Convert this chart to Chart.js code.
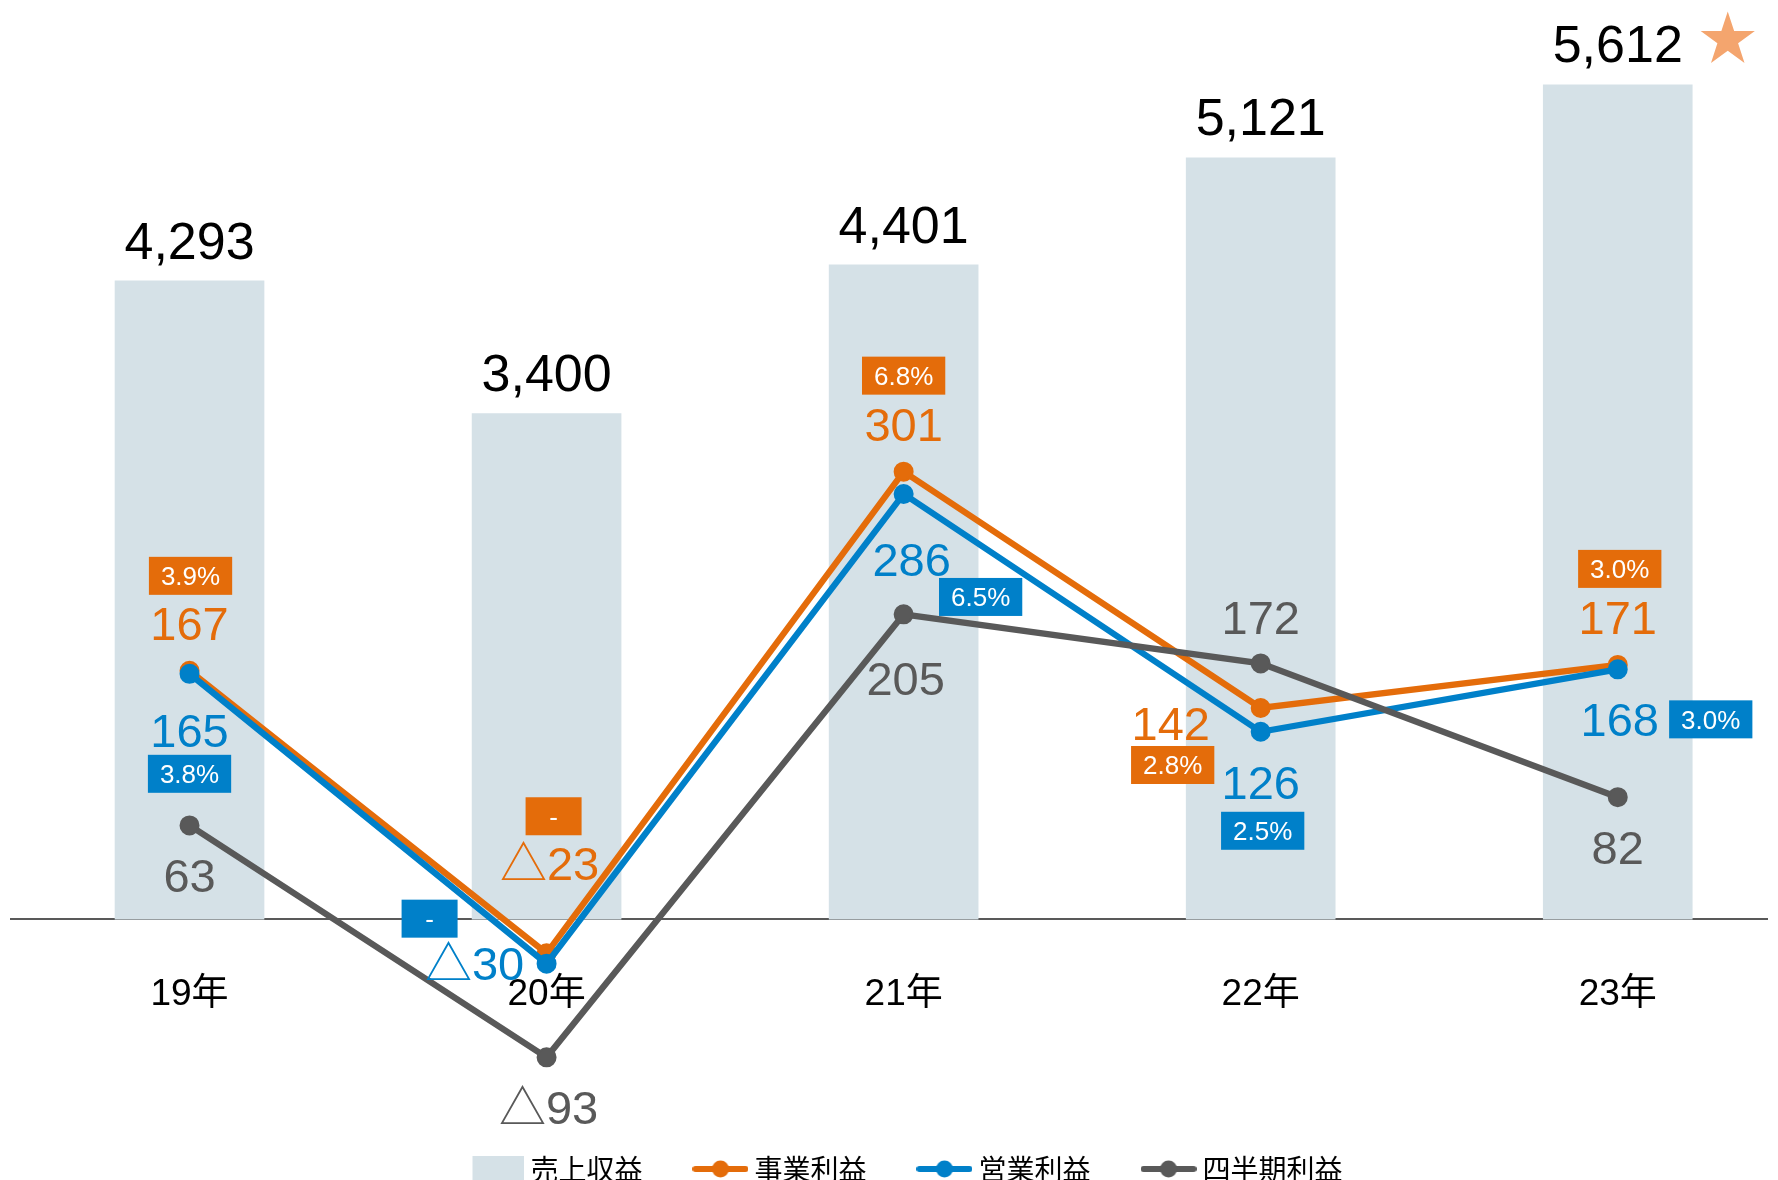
<!DOCTYPE html>
<html lang="ja">
<head>
<meta charset="utf-8">
<script src="https://cdn.jsdelivr.net/npm/chart.js@4.4.1/dist/chart.umd.min.js"></script>
<style>
  html, body { margin: 0; padding: 0; background: #fff; overflow: hidden; }
</style>
</head>
<body>
<canvas id="chart" width="1778" height="1180"></canvas>
<script>
// 年度
const years = ['19年', '20年', '21年', '22年', '23年'];
// 売上収益
const sales = [4293, 3400, 4401, 5121, 5612];
// 事業利益と利益率
const bizProfit = [167, -23, 301, 142, 171];
const bizMargin = ['3.9%', '-', '6.8%', '2.8%', '3.0%'];
// 営業利益と利益率
const opProfit = [165, -30, 286, 126, 168];
const opMargin = ['3.8%', '-', '6.5%', '2.5%', '3.0%'];
// 四半期利益
const qProfit = [63, -93, 205, 172, 82];

const FONT = '"Liberation Sans", "Noto Sans CJK JP", sans-serif';
const JP_FONT = '"Noto Sans CJK JP", sans-serif';

const COLORS = {
  bar: '#D5E1E7',
  biz: '#E46C0A',
  op: '#0080C9',
  q: '#595959',
  star: '#F4A56E'
};

// ラベルの位置 (点からのずれ px)
const bizLabelPos = [[0, -48], [3, -90], [0, -47], [-90, 15], [0, -48]];
const bizBoxPos = [[1, -95], [7, -137], [0, -96], [-88, 57], [2, -96]];
const opLabelPos = [[0, 56], [-72, 0], [8, 65], [0, 50], [2, 50]];
const opBoxPos = [[0, 100], [-117, -45], [77, 103], [2, 99], [93, 50]];
const qLabelPos = [[0, 50], [2, 50], [2, 64], [0, -46], [0, 50]];

// 軸の範囲 (棒と線で 10:1)
const Y_MIN = -1197;
const Y_MAX = 6109;
const X_MIN = -0.5;
const X_MAX = 4.418;

function fmt(v) {
  return v < 0 ? '△' + Math.abs(v) : String(v);
}

function toPoints(values) {
  return values.map((v, i) => ({ x: i, y: v }));
}

function drawText(ctx, text, x, y, size, color) {
  ctx.font = size + 'px ' + FONT;
  ctx.fillStyle = color;
  ctx.textAlign = 'center';
  ctx.textBaseline = 'alphabetic';
  ctx.fillText(text, x, y + size * 0.358);
}

function drawBox(ctx, text, x, y, color) {
  ctx.font = '26px ' + FONT;
  const w = Math.max(ctx.measureText(text).width + 24, 56);
  ctx.fillStyle = color;
  ctx.fillRect(x - w / 2, y - 19, w, 38);
  drawText(ctx, text, x, y, 26, '#fff');
}

function drawStar(ctx, cx, cy, r, color) {
  ctx.beginPath();
  for (let k = 0; k < 10; k++) {
    const rad = k % 2 === 0 ? r : r * 0.382;
    const a = -Math.PI / 2 + k * Math.PI / 5;
    const px = cx + rad * Math.cos(a);
    const py = cy + rad * Math.sin(a);
    if (k === 0) ctx.moveTo(px, py); else ctx.lineTo(px, py);
  }
  ctx.closePath();
  ctx.fillStyle = color;
  ctx.fill();
}

// 凡例のアイコン
function legendIcon(color, kind) {
  const c = document.createElement('canvas');
  c.width = 56;
  c.height = 28;
  const g = c.getContext('2d');
  if (kind === 'bar') {
    g.fillStyle = color;
    g.fillRect(4, 1, 52, 27);
  } else {
    g.strokeStyle = color;
    g.lineWidth = 6;
    g.lineCap = 'round';
    g.beginPath();
    g.moveTo(3, 14);
    g.lineTo(53, 14);
    g.stroke();
    g.fillStyle = color;
    g.beginPath();
    g.arc(28, 14, 8.5, 0, Math.PI * 2);
    g.fill();
  }
  return c;
}

const legendItems = [
  { text: '売上収益', pointStyle: legendIcon(COLORS.bar, 'bar'), datasetIndex: 0 },
  { text: '事業利益', pointStyle: legendIcon(COLORS.biz, 'line'), datasetIndex: 1 },
  { text: '営業利益', pointStyle: legendIcon(COLORS.op, 'line'), datasetIndex: 2 },
  { text: '四半期利益', pointStyle: legendIcon(COLORS.q, 'line'), datasetIndex: 3 }
].map(it => Object.assign(it, { fillStyle: 'rgba(0,0,0,0)', strokeStyle: 'rgba(0,0,0,0)', lineWidth: 0, hidden: false }));

// 値ラベルを描くプラグイン
const valueLabels = {
  id: 'valueLabels',
  afterDatasetsDraw(chart) {
    const ctx = chart.ctx;
    ctx.save();
    const bars = chart.getDatasetMeta(0).data;
    bars.forEach((bar, i) => {
      drawText(ctx, sales[i].toLocaleString('en-US'), bar.x, bar.y - 41, 52, '#000');
      if (i === bars.length - 1) {
        drawStar(ctx, bar.x + 110, bar.y - 45, 28.5, COLORS.star);
      }
    });
    const series = [
      { idx: 1, values: bizProfit, margins: bizMargin, pos: bizLabelPos, box: bizBoxPos, color: COLORS.biz },
      { idx: 2, values: opProfit, margins: opMargin, pos: opLabelPos, box: opBoxPos, color: COLORS.op },
      { idx: 3, values: qProfit, margins: null, pos: qLabelPos, box: null, color: COLORS.q }
    ];
    series.forEach(s => {
      chart.getDatasetMeta(s.idx).data.forEach((pt, i) => {
        drawText(ctx, fmt(s.values[i]), pt.x + s.pos[i][0], pt.y + s.pos[i][1], 47, s.color);
        if (s.margins) {
          drawBox(ctx, s.margins[i], pt.x + s.box[i][0], pt.y + s.box[i][1], s.color);
        }
      });
    });
    ctx.restore();
  }
};

function lineDataset(label, values, color, order) {
  return {
    type: 'line',
    label: label,
    data: toPoints(values),
    yAxisID: 'y1',
    borderColor: color,
    backgroundColor: color,
    borderWidth: 6.3,
    pointRadius: 9,
    pointBorderWidth: 2,
    pointBackgroundColor: color,
    pointBorderColor: color,
    tension: 0,
    clip: false,
    order: order
  };
}

const ctx = document.getElementById('chart').getContext('2d');
new Chart(ctx, {
  data: {
    datasets: [
      {
        type: 'bar',
        label: '売上収益',
        data: toPoints(sales),
        yAxisID: 'y',
        backgroundColor: COLORS.bar,
        barThickness: 149,
        order: 4
      },
      lineDataset('事業利益', bizProfit, COLORS.biz, 3),
      lineDataset('営業利益', opProfit, COLORS.op, 2),
      lineDataset('四半期利益', qProfit, COLORS.q, 1)
    ]
  },
  options: {
    responsive: false,
    animation: false,
    devicePixelRatio: 1,
    layout: { padding: { left: 11, right: -30, top: 0, bottom: -13 } },
    scales: {
      x: {
        type: 'linear',
        offset: false,
        position: { y: 0 },
        min: X_MIN,
        max: X_MAX,
        afterBuildTicks: scale => { scale.ticks = years.map((_, i) => ({ value: i })); },
        grid: { display: false, drawTicks: false },
        border: { display: true, color: '#595959', width: 2 },
        ticks: {
          autoSkip: false,
          maxRotation: 0,
          padding: 54,
          color: '#000',
          font: { size: 37, family: FONT },
          callback: v => years[v]
        }
      },
      y: { display: false, min: Y_MIN, max: Y_MAX },
      y1: { display: false, min: Y_MIN / 10, max: Y_MAX / 10 }
    },
    plugins: {
      tooltip: { enabled: false },
      legend: {
        position: 'bottom',
        labels: {
          usePointStyle: true,
          pointStyleWidth: 40,
          padding: 58,
          color: '#000',
          font: { size: 28, family: JP_FONT },
          generateLabels: () => legendItems
        }
      }
    }
  },
  plugins: [valueLabels]
});
</script>
</body>
</html>
